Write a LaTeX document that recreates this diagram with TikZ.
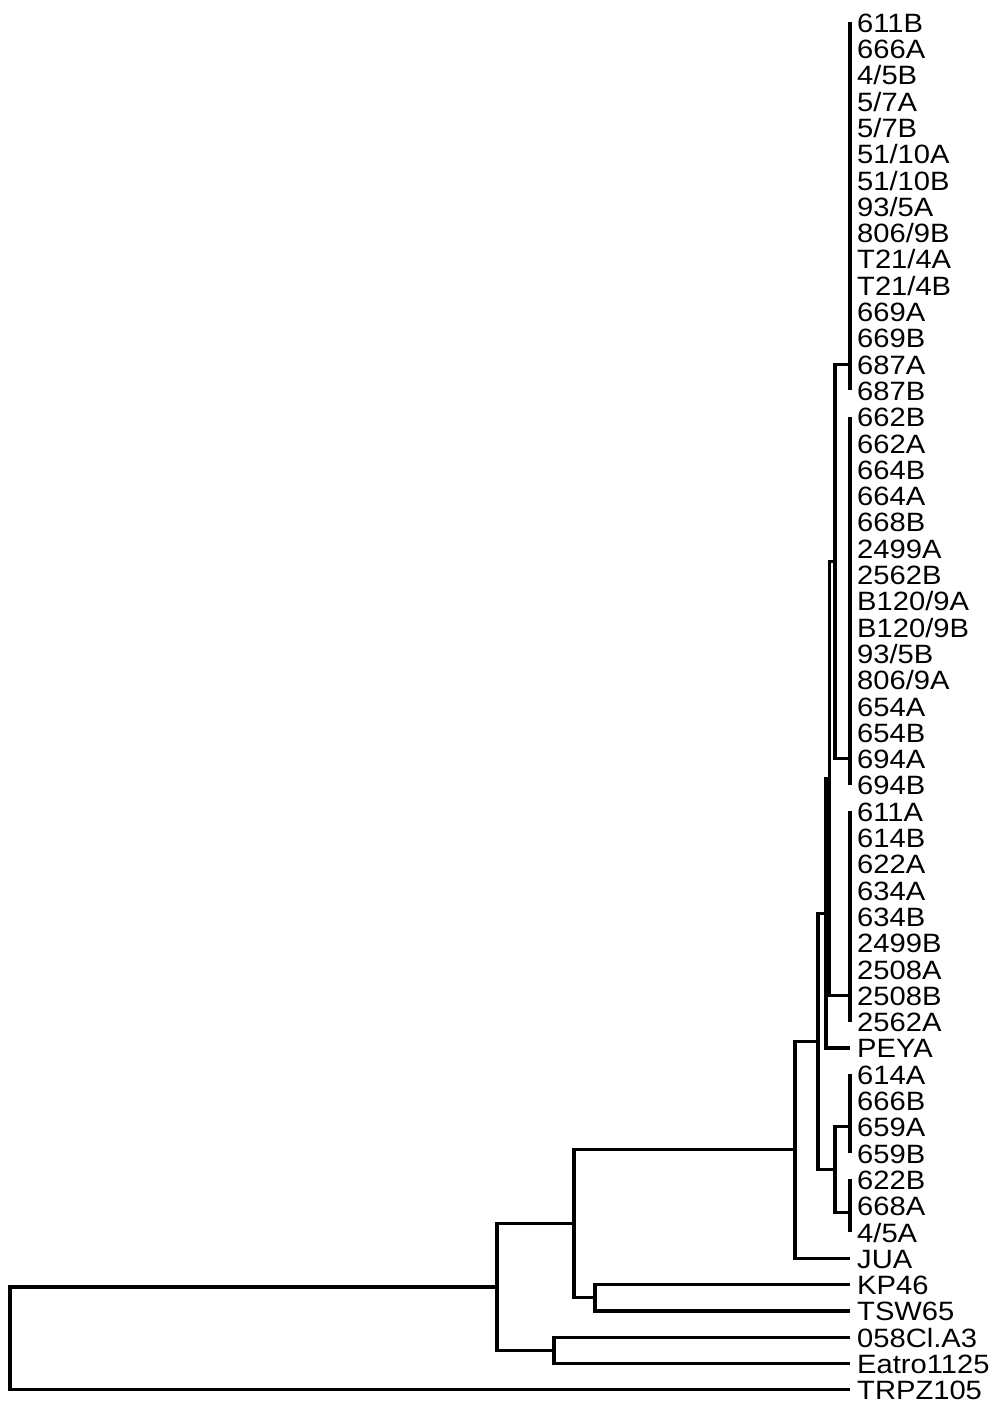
\documentclass[tikz,border=0pt]{standalone}
\usepackage{fontspec}
\setmainfont{Liberation Sans}[FakeStretch=1.1]
\usetikzlibrary{calc}

\begin{document}
\begin{tikzpicture}[
  x=1pt, y=-1pt,
  br/.style={line width=3.2pt},
  lab/.style={anchor=base west, inner sep=0pt, font=\fontsize{26.5}{28}\selectfont}
]
\useasboundingbox (0,0) rectangle (998,1408);

% leaves, top to bottom
\foreach \leafname [count=\i from 0] in {611B,666A,4/5B,5/7A,5/7B,51/10A,51/10B,93/5A,806/9B,T21/4A,T21/4B,669A,669B,687A,687B,
    662B,662A,664B,664A,668B,2499A,2562B,B120/9A,B120/9B,93/5B,806/9A,654A,654B,694A,694B,
    611A,614B,622A,634A,634B,2499B,2508A,2508B,2562A,PEYA,
    614A,666B,659A,659B,622B,668A,4/5A,JUA,KP46,TSW65,058Cl.A3,Eatro1125,TRPZ105}{
  \coordinate (lf\i) at (850,{22.2+26.3*\i});
  \node[lab] (t\i) at (857,{32.2+26.3*\i}) {\leafname};
}

% clusters of identical leaves
\draw[br] (lf0) -- (lf14);
\draw[br] (lf15) -- (lf29);
\draw[br] (lf30) -- (lf38);
\draw[br] (lf40) -- (lf43);
\draw[br] (lf44) -- (lf46);
\coordinate (gD2) at ($(lf45)!0.25!(lf46)$);

% inner nodes
\coordinate (nAB) at (835,561.3);
\coordinate (nABC) at (829.5,778.3);
\coordinate (nABCP) at (826,913.1);
\coordinate (nD) at (835,1169.5);
\coordinate (nCore) at (818,1041.3);
\coordinate (nJ) at (795,1149.8);
\coordinate (nKT) at (595,1297.7);
\coordinate (nJK) at (574,1223.8);
\coordinate (nEE) at (554,1350.3);
\coordinate (nIn) at (497,1287);
\coordinate (nRoot) at (10,1338.4);

\draw[br] (lf13) -| (nAB) |- (lf28);
\draw[br] (nAB) -| (nABC) |- (lf37);
\draw[br] (nABC) -| (nABCP) |- (lf39);
\draw[br] (lf42) -| (nD) |- (gD2);
\draw[br] (nABCP) -| (nCore) |- (nD);
\draw[br] (nCore) -| (nJ) |- (lf47);
\draw[br] (lf48) -| (nKT) |- (lf49);
\draw[br] (nJ) -| (nJK) |- (nKT);
\draw[br] (lf50) -| (nEE) |- (lf51);
\draw[br] (nJK) -| (nIn) |- (nEE);
\draw[br] (nIn) -| (nRoot) |- (lf52);
\end{tikzpicture}
\end{document}
